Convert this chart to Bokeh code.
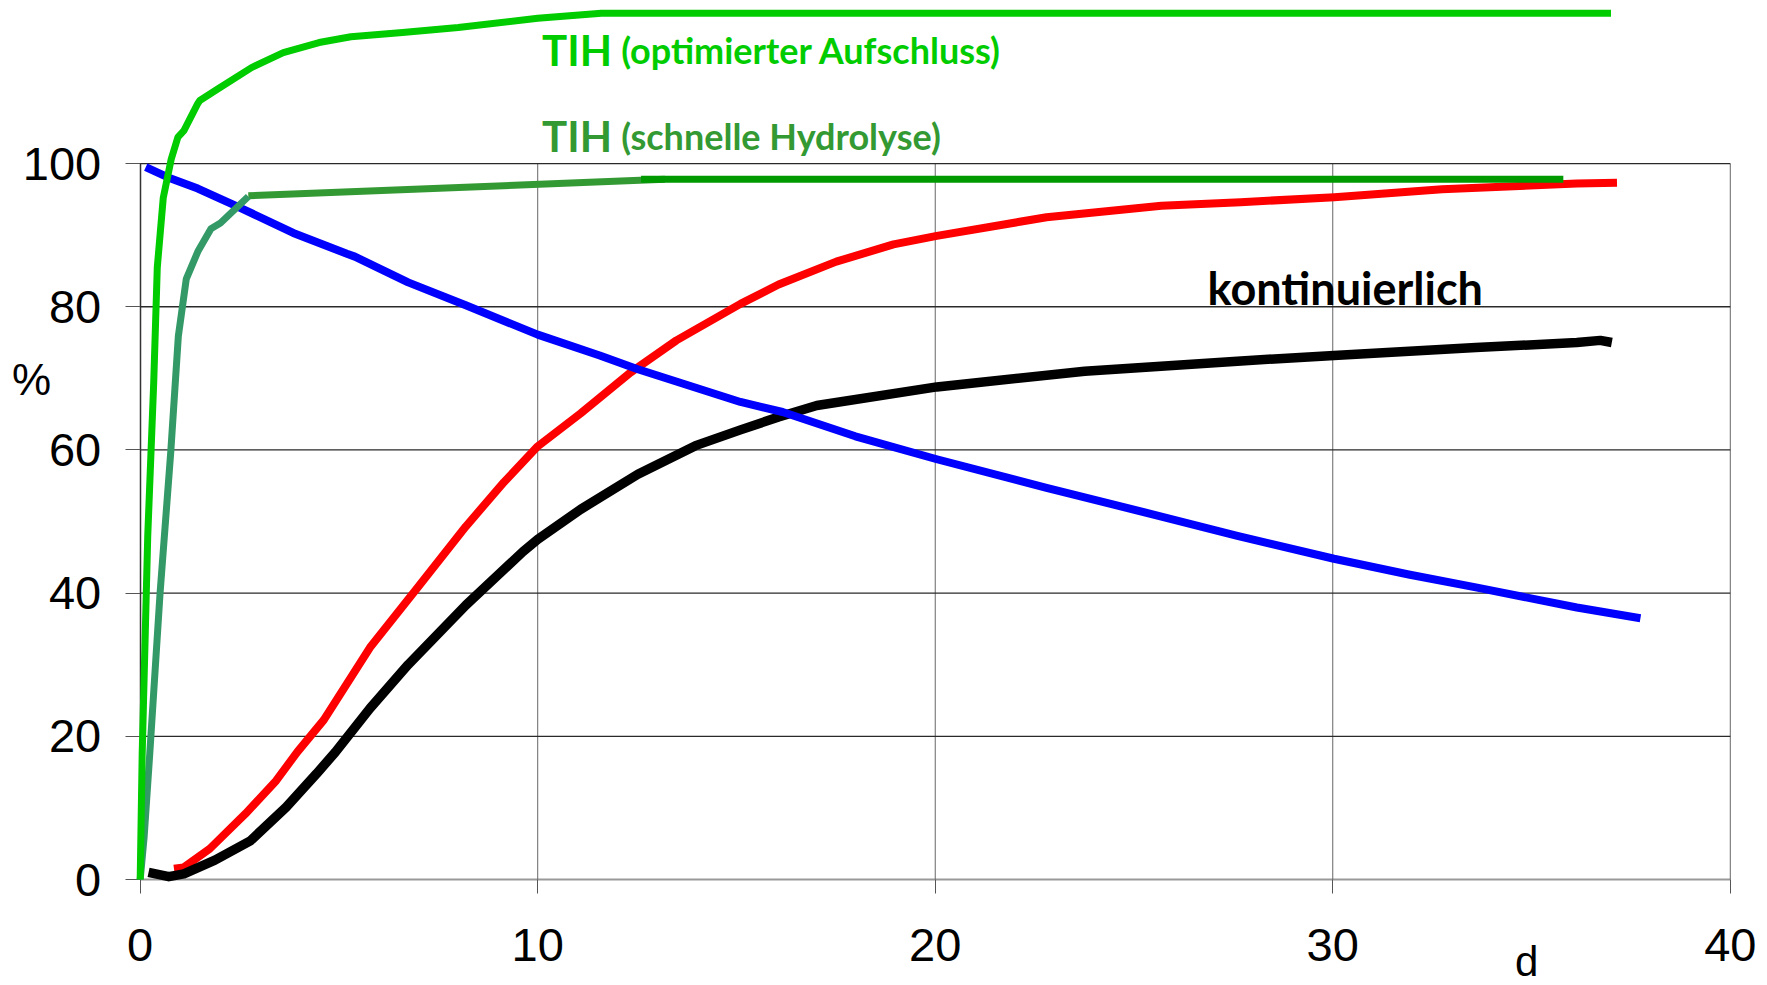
from bokeh.plotting import figure
from bokeh.models import Range1d, FixedTicker, Label
from bokeh.embed import file_html
from bokeh.resources import INLINE

# ---- data ----
x_ticks = [0, 10, 20, 30, 40]
y_ticks = [0, 20, 40, 60, 80, 100]

# TIH (optimierter Aufschluss)
opt_x = [0, 0.05, 0.19, 0.34, 0.43, 0.58, 0.78, 0.95, 1.1, 1.45, 1.5, 1.95, 2.8, 3.6, 4.5, 5.3, 6.6, 8.0, 10.0, 11.6, 37.0]
opt_y = [0, 17.5, 48, 69.4, 85.5, 95.2, 100.6, 103.7, 104.6, 108.4, 108.8, 110.4, 113.4, 115.5, 116.9, 117.7, 118.3, 119.0, 120.3, 121.0, 121.0]

# TIH (schnelle Hydrolyse) - three coloured sections
fast1_x = [0, 0.1, 0.24, 0.5, 0.77, 0.96, 1.16, 1.45, 1.78, 2.02, 2.72]
fast1_y = [0, 6, 17.5, 40, 59.8, 75.9, 83.9, 87.7, 90.9, 91.7, 95.4]
fast2_x = [2.72, 13.2]
fast2_y = [95.5, 97.8]
fast3_x = [12.6, 35.8]
fast3_y = [97.8, 97.8]

# red
red_x = [0.85, 1.1, 1.75, 2.65, 3.42, 3.95, 4.62, 5.78, 6.94, 8.19, 9.15, 10.0, 11.08, 12.33, 13.49, 15.1, 16.06, 17.51, 18.95, 20.04, 22.8, 25.69, 27.68, 30.04, 32.75, 36.14, 37.15]
red_y = [1.5, 1.7, 4.3, 9.2, 13.8, 17.8, 22.3, 32.4, 40.5, 49.3, 55.5, 60.5, 65.1, 70.8, 75.3, 80.4, 83.1, 86.3, 88.7, 89.9, 92.5, 94.1, 94.6, 95.3, 96.4, 97.2, 97.3]

# black (kontinuierlich)
blk_x = [0.21, 0.72, 1.1, 1.88, 2.77, 3.67, 4.44, 4.91, 5.78, 6.74, 8.19, 9.63, 10.0, 11.08, 12.52, 13.97, 15.1, 16.06, 17.02, 20.04, 23.76, 27.6, 30.03, 33.6, 36.14, 36.73, 37.02]
blk_y = [1.0, 0.4, 0.8, 2.7, 5.4, 10.1, 14.8, 17.8, 23.9, 30.0, 38.3, 45.8, 47.5, 51.7, 56.6, 60.6, 62.8, 64.6, 66.2, 68.8, 71.0, 72.4, 73.2, 74.3, 75.0, 75.3, 75.0]

# blue
blue_x = [0.14, 0.77, 1.45, 2.41, 3.85, 5.2, 5.4, 6.74, 8.19, 10.0, 11.56, 12.5, 15.1, 16.16, 17.99, 20.04, 22.8, 25.69, 27.6, 30.03, 31.91, 33.6, 36.14, 37.74]
blue_y = [99.5, 97.9, 96.5, 94.1, 90.3, 87.4, 87.0, 83.4, 80.2, 76.1, 73.2, 71.3, 66.7, 65.3, 61.9, 58.7, 54.7, 50.7, 48.0, 44.8, 42.6, 40.8, 38.0, 36.5]

p = figure(width=1760, height=984,
           x_range=Range1d(-3.514, 40.76), y_range=Range1d(-14.66, 122.77),
           output_backend="svg", toolbar_location=None, min_border=0)
p.outline_line_color = None
p.grid.visible = False
p.background_fill_color = "white"
p.border_fill_color = "white"

# grid lines (bounded to the tick extents)
p.segment(x0=x_ticks[1:], x1=x_ticks[1:], y0=[y_ticks[0]] * 4, y1=[y_ticks[-1]] * 4,
          line_color="#666666", line_width=1)
p.segment(x0=[x_ticks[0]] * 5, x1=[x_ticks[-1]] * 5, y0=y_ticks[1:], y1=y_ticks[1:],
          line_color="#2a2a2a", line_width=1.3)

# axes, pinned at the data origin
p.xaxis.fixed_location = 0
p.yaxis.fixed_location = 0
p.xaxis.ticker = FixedTicker(ticks=x_ticks)
p.yaxis.ticker = FixedTicker(ticks=y_ticks)
p.xaxis.bounds = (x_ticks[0], x_ticks[-1])
p.yaxis.bounds = (y_ticks[0], y_ticks[-1])
for ax in (p.xaxis, p.yaxis):
    ax.level = "underlay"
    ax.minor_tick_line_color = None
    ax.major_tick_in = 0
    ax.major_label_text_font = "Liberation Sans"
    ax.major_label_text_font_size = "47px"
    ax.major_label_text_color = "black"
    ax.major_tick_line_color = "#555555"
p.xaxis.major_tick_out = 14
p.yaxis.major_tick_out = 15
p.xaxis.axis_line_color = "#999999"
p.xaxis.axis_line_width = 2
p.yaxis.axis_line_color = "#333333"
p.yaxis.axis_line_width = 1.5
p.xaxis.major_label_standoff = 35
p.yaxis.major_label_standoff = 24

# curves
p.line(red_x, red_y, line_color="#FF0000", line_width=8, line_join="round")
p.line(blk_x, blk_y, line_color="#000000", line_width=9.5, line_join="round")
p.line(blue_x, blue_y, line_color="#0000FF", line_width=8, line_join="round")
p.line(fast2_x, fast2_y, line_color="#339933", line_width=7)
p.line(fast3_x, fast3_y, line_color="#009900", line_width=7)
p.line(fast1_x, fast1_y, line_color="#339966", line_width=7, line_join="round")
p.line(opt_x, opt_y, line_color="#00CC00", line_width=7, line_join="round")

# texts
lato = "Lato"
p.add_layout(Label(x=10.11, y=115.9, text="TIH", text_font=lato, text_font_style="bold",
                   text_font_size="42px", text_color="#00CC00", text_baseline="alphabetic"))
p.add_layout(Label(x=12.1, y=115.9, text="(optimierter Aufschluss)", text_font=lato,
                   text_font_style="bold", text_font_size="36px", text_color="#00CC00",
                   text_baseline="alphabetic"))
p.add_layout(Label(x=10.11, y=103.8, text="TIH", text_font=lato, text_font_style="bold",
                   text_font_size="42px", text_color="#339933", text_baseline="alphabetic"))
p.add_layout(Label(x=12.1, y=103.8, text="(schnelle Hydrolyse)", text_font=lato,
                   text_font_style="bold", text_font_size="36px", text_color="#339933",
                   text_baseline="alphabetic"))
p.add_layout(Label(x=26.85, y=82.6, text="kontinuierlich", text_font=lato, text_font_style="bold",
                   text_font_size="45px", text_color="black", text_baseline="alphabetic"))
p.add_layout(Label(x=-2.73, y=69.8, text="%", text_font="Liberation Sans",
                   text_font_size="44px", text_color="black", text_align="center",
                   text_baseline="middle"))
p.add_layout(Label(x=34.88, y=-11.45, text="d", text_font="Liberation Sans",
                   text_font_size="42px", text_color="black", text_align="center",
                   text_baseline="middle"))

open("out.html", "w").write(file_html(p, INLINE))
